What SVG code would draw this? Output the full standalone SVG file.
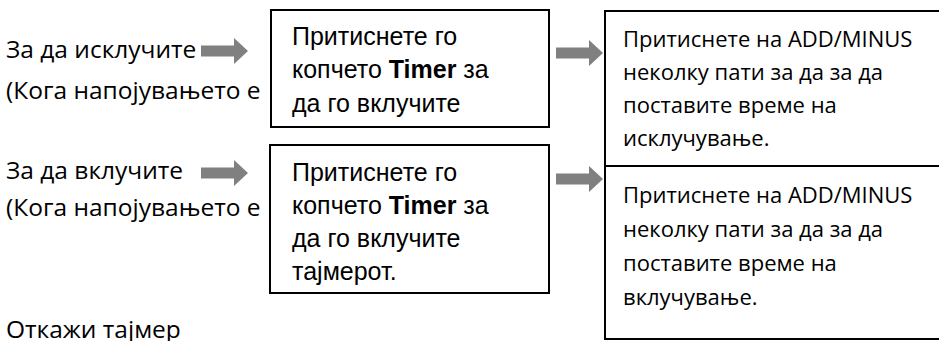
<svg xmlns="http://www.w3.org/2000/svg" width="939" height="341" viewBox="0 0 939 341">
<style>
.cal{font-family:"Open Sans","Noto Sans",sans-serif;font-size:22px;fill:#000}
.lft{font-size:24.5px}
.ar{font-family:"Liberation Sans",Arial,sans-serif;font-size:25px;fill:#000}
.box{fill:#fff;stroke:#000;stroke-width:2}
.arr{fill:#808080}
</style>
<defs>
<path id="ba" d="M0,-5.5 H33 V-13 L47,0 L33,13 V5.5 H0 Z"/>
</defs>
<rect width="939" height="341" fill="#fff"/>
<g id="labels">
<text class="cal lft" x="6" y="58">За да исклучите</text>
<text class="cal lft" x="6" y="99">(Кога напојувањето е</text>
<text class="cal lft" x="6" y="179">За да вклучите</text>
<text class="cal lft" x="6" y="216">(Кога напојувањето е</text>
<text class="cal lft" x="6" y="338">Откажи тајмер</text>
</g>
<g id="node-off">
<rect class="box" x="271" y="10" width="278" height="117"/>
<text class="ar" x="292" y="45">Притиснете го</text>
<text class="ar" x="292" y="78">копчето <tspan font-weight="bold">Timer</tspan> за</text>
<text class="ar" x="292" y="112">да го вклучите</text>
</g>
<g id="node-on">
<rect class="box" x="270" y="145" width="279" height="148"/>
<text class="ar" x="292" y="181">Притиснете го</text>
<text class="ar" x="292" y="214">копчето <tspan font-weight="bold">Timer</tspan> за</text>
<text class="ar" x="292" y="247">да го вклучите</text>
<text class="ar" x="292" y="280">тајмерот.</text>
</g>
<g id="node-set-off">
<rect class="box" x="605" y="11" width="345" height="155"/>
<text class="cal" x="623" y="47">Притиснете на ADD/MINUS</text>
<text class="cal" x="623" y="80">неколку пати за да за да</text>
<text class="cal" x="623" y="113">поставите време на</text>
<text class="cal" x="623" y="146">исклучување.</text>
</g>
<g id="node-set-on">
<rect class="box" x="605" y="166" width="345" height="173"/>
<text class="cal" x="623" y="203">Притиснете на ADD/MINUS</text>
<text class="cal" x="623" y="237">неколку пати за да за да</text>
<text class="cal" x="623" y="271">поставите време на</text>
<text class="cal" x="623" y="305">вклучување.</text>
</g>
<g id="connectors">
<use href="#ba" class="arr" x="201" y="51"/>
<use href="#ba" class="arr" x="201" y="173"/>
<use href="#ba" class="arr" x="556" y="53"/>
<use href="#ba" class="arr" x="556" y="179"/>
</g>
</svg>
